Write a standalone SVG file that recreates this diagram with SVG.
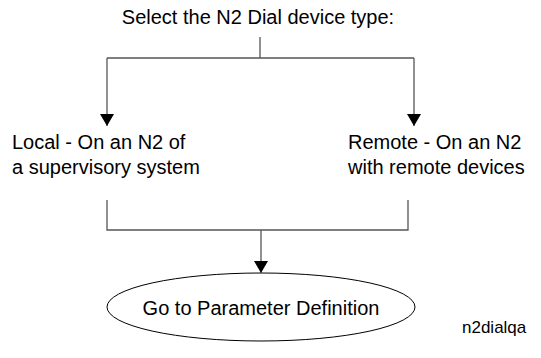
<svg xmlns="http://www.w3.org/2000/svg" width="541" height="358" viewBox="0 0 541 358">
<style>
text{font-family:"Liberation Sans",Arial,sans-serif;font-size:20px;fill:#000}
.ln{stroke:#555;stroke-width:1.3;fill:none}
.small{font-size:17px}
</style>
<defs>
<marker id="ah" markerWidth="12" markerHeight="14" refX="12" refY="7" orient="auto" markerUnits="userSpaceOnUse" viewBox="0 0 12 14">
<path d="M0,0 L12,7 L0,14 Z" fill="#000"/>
</marker>
</defs>
<rect width="541" height="358" fill="#fff"/>
<g id="title"><text x="258" y="24" text-anchor="middle">Select the N2 Dial device type:</text></g>
<g id="local"><text x="12" y="149">Local - On an N2 of</text><text x="12" y="174">a supervisory system</text></g>
<g id="remote"><text x="348" y="149">Remote - On an N2</text><text x="348" y="174">with remote devices</text></g>
<g id="goto"><ellipse cx="261" cy="307" rx="154" ry="34" fill="#fff" stroke="#000" stroke-width="1"/><text x="261" y="315" text-anchor="middle">Go to Parameter Definition</text></g>
<g id="label"><text class="small" x="462" y="333">n2dialqa</text></g>
<g id="connectors">
<path class="ln" d="M260,37 V58"/>
<path class="ln" d="M107,58 H414"/>
<path class="ln" d="M107,58 V126" marker-end="url(#ah)"/>
<path class="ln" d="M414,58 V126" marker-end="url(#ah)"/>
<path class="ln" d="M107,200 V230 H408 V200"/>
<path class="ln" d="M261,230 V273" marker-end="url(#ah)"/>
</g>
</svg>
